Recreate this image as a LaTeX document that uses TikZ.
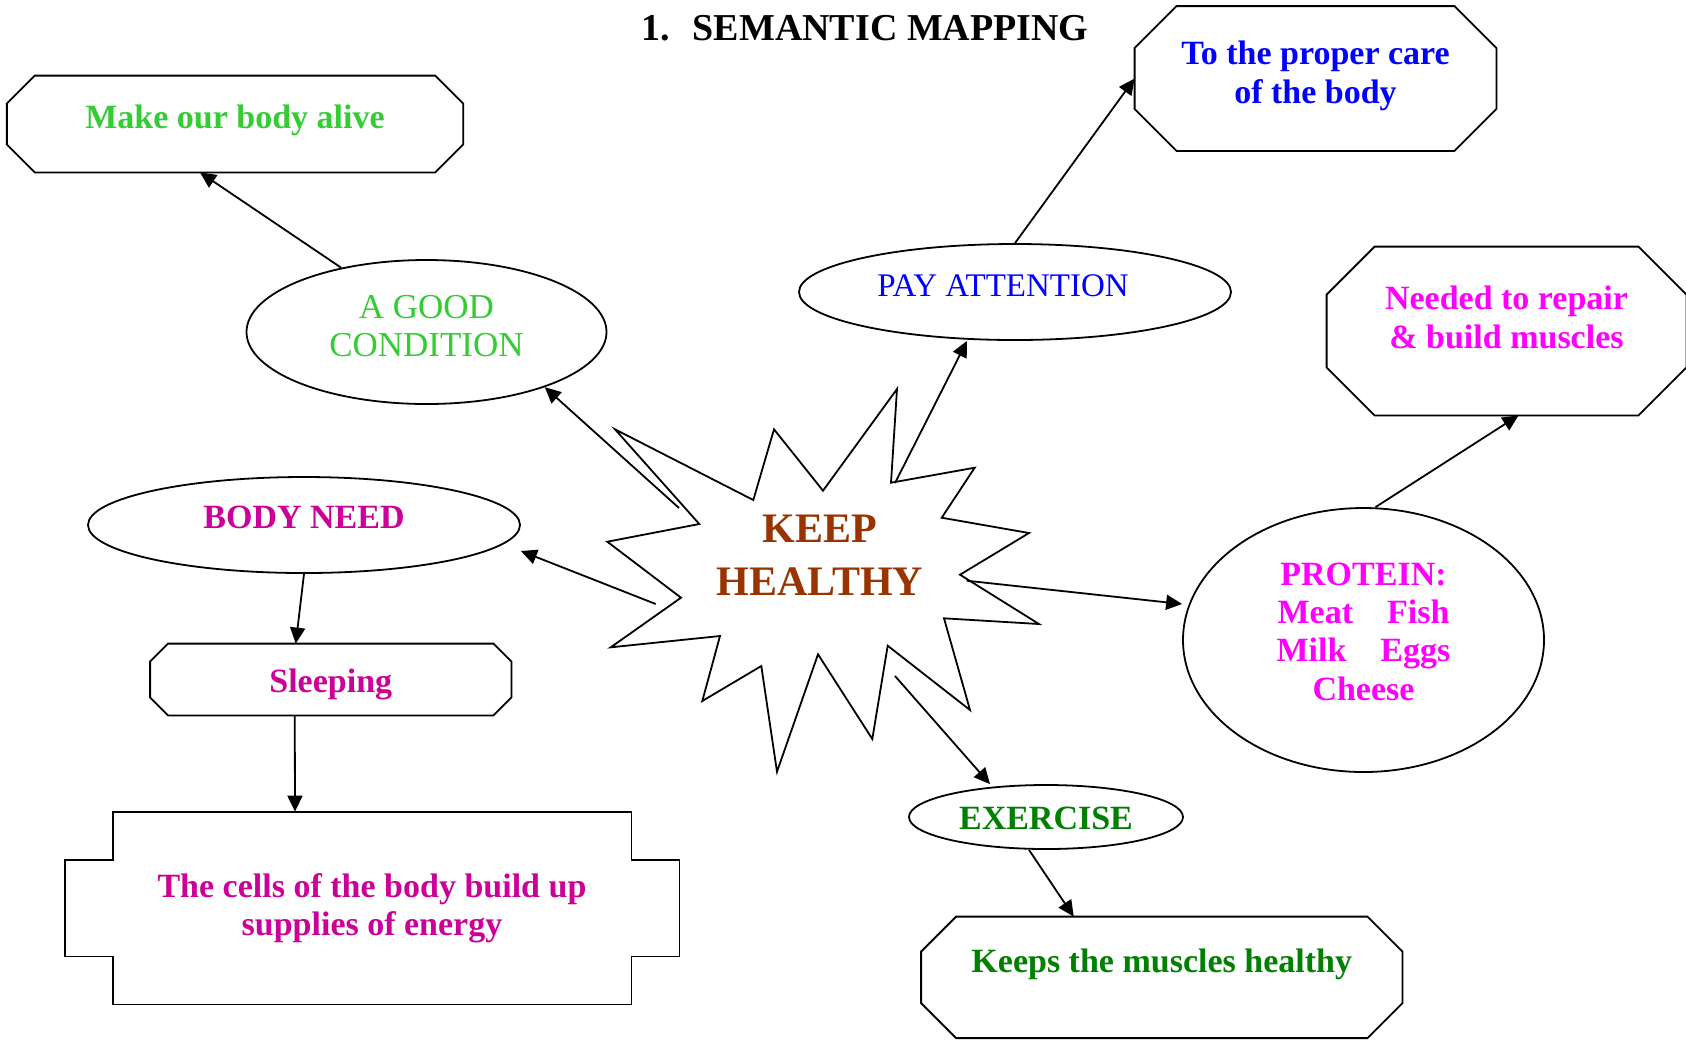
\documentclass[tikz,border=0pt]{standalone}
\usepackage{fontspec}
\setmainfont{Liberation Serif}
\usepackage{tikz}
\usetikzlibrary{shapes.geometric,arrows.meta,calc}

\definecolor{alivegreen}{RGB}{51,204,51}
\definecolor{careblue}{RGB}{0,0,255}
\definecolor{needpink}{RGB}{204,0,153}
\definecolor{protpink}{RGB}{255,0,255}
\definecolor{exgreen}{RGB}{0,128,0}
\definecolor{keepbrown}{RGB}{153,51,0}

\tikzstyle{outline} = [draw,line width=0.9pt]
\tikzstyle{bubble} = [outline,ellipse,inner sep=0pt,align=center]
\tikzstyle{box} = [rectangle,inner sep=0pt,align=center]
\tikzstyle{conn} = [-{Triangle[length=8pt,width=7.5pt]},line width=0.9pt]

\newcommand{\txt}{\fontsize{17}{19.2}\selectfont}
\newcommand{\lowpad}[1]{\rule[-#1]{0pt}{#1}}
\newcommand{\highpad}[1]{\rule{0pt}{#1}}

% octagon drawn round a box node
\newcommand{\cutcorners}[2]{%
  \draw[outline] ($(#1.north west)+(#2,0)$) -- ($(#1.north east)+(-#2,0)$)
    -- ($(#1.north east)+(0,#2)$) -- ($(#1.south east)+(0,-#2)$)
    -- ($(#1.south east)+(-#2,0)$) -- ($(#1.south west)+(#2,0)$)
    -- ($(#1.south west)+(0,-#2)$) -- ($(#1.north west)+(0,#2)$) -- cycle;}
% box with a tab on each side
\newcommand{\sidetabs}[2]{%
  \draw[outline] (#1.north west) -- (#1.north east) -- ($(#1.north east)+(0,#2)$)
    -- ($(#1.north east)+(#2,#2)$) -- ($(#1.south east)+(#2,-#2)$)
    -- ($(#1.south east)+(0,-#2)$) -- (#1.south east) -- (#1.south west)
    -- ($(#1.south west)+(0,-#2)$) -- ($(#1.south west)+(-#2,-#2)$)
    -- ($(#1.north west)+(-#2,#2)$) -- ($(#1.north west)+(0,#2)$) -- cycle;}

\begin{document}
\begin{tikzpicture}[x=0.5pt,y=-0.5pt]
    \useasboundingbox (0,0) rectangle (1686,1041);

    % the star
    \draw[outline] (615,429.3) -- (699.3,524) -- (607.3,541.7) -- (681,597.7)
      -- (610.7,647.3) -- (720,636) -- (702.3,701) -- (761.3,666) -- (777,771.7)
      -- (818,654.3) -- (872.3,739) -- (887.7,645.7) -- (970,710) -- (944,618.3)
      -- (1039,624) -- (960,574.7) -- (1029,533) -- (941.7,517.7) -- (974.7,467.7)
      -- (891,482.7) -- (897,389) -- (823,490.7) -- (774,429.3) -- (753.3,500) -- cycle;
    \node[align=center,font=\fontsize{21}{26.3}\selectfont\bfseries,text=keepbrown] (keep) at (820,555.5) {KEEP\\HEALTHY};

    \coordinate (s1) at (679,508);
    \coordinate (s2) at (655.7,604);
    \coordinate (s3) at (895,483);
    \coordinate (s4) at (966.7,580.7);
    \coordinate (s5) at (895,676);

    \node[anchor=base,font=\fontsize{19}{24}\selectfont\bfseries] (title) at (865,40) {1.\hspace{0.6em}SEMANTIC MAPPING};

    \node[box,minimum width=227.75pt,minimum height=48pt,font=\txt\bfseries,text=alivegreen] (alive) at (235,124) {Make our body alive\lowpad{7.5pt}};
    \node[box,minimum width=180.5pt,minimum height=72pt,font=\txt\bfseries,text=careblue] (care) at (1315.5,78.5) {To the proper care\\of the body\lowpad{6.5pt}};
    \node[box,minimum width=179.5pt,minimum height=84pt,font=\txt\bfseries,text=protpink] (repair) at (1506.5,331) {Needed to repair\\\& build muscles\lowpad{14pt}};
    \node[box,minimum width=180.25pt,minimum height=35.5pt,font=\txt\bfseries,text=needpink] (sleep) at (330.75,679.5) {\highpad{17pt}Sleeping};
    \node[box,minimum width=259pt,minimum height=96pt,font=\txt\bfseries,text=needpink] (cells) at (372,908) {The cells of the body build up\\supplies of energy};
    \node[box,minimum width=240.25pt,minimum height=60.35pt,font=\txt\bfseries,text=exgreen] (keeps) at (1161.75,977.35) {Keeps the muscles healthy\lowpad{16.5pt}};

    \cutcorners{alive}{28}
    \cutcorners{care}{42}
    \cutcorners{repair}{48}
    \cutcorners{sleep}{18}
    \cutcorners{keeps}{35}
    \sidetabs{cells}{48}

    \node[bubble,minimum width=180pt,minimum height=72pt,font=\fontsize{17.5}{19.2}\selectfont,text=alivegreen] (cond) at (426.5,332) {A GOOD\\CONDITION\lowpad{6pt}};
    \node[bubble,minimum width=216pt,minimum height=48pt,font=\fontsize{16.5}{19.2}\selectfont,text=careblue] (attn) at (1015,292) {PAY ATTENTION\hspace*{12pt}\lowpad{6.5pt}};
    \node[bubble,minimum width=216pt,minimum height=48pt,font=\txt\bfseries,text=needpink] (need) at (304,525) {BODY NEED\lowpad{8pt}};
    \node[bubble,minimum width=180.5pt,minimum height=132pt,font=\txt\bfseries,text=protpink] (prot) at (1363.5,640) {PROTEIN:\\Meat\quad Fish\\Milk\quad Eggs\\Cheese\lowpad{8.5pt}};
    \node[bubble,minimum width=137pt,minimum height=32pt,font=\txt\bfseries,text=exgreen] (exer) at (1046,817) {\highpad{13pt}EXERCISE};

    \draw[conn] (cond.143) -- ([xshift=-17.5pt]alive.south);
    \draw[conn] (s1) -- (cond.-25);
    \draw[conn] (s2) -- ([yshift=-13pt]need.east);
    \draw[conn] (s3) -- ([xshift=-24pt]attn.south);
    \draw[conn] (attn.north) -- (care.west);
    \draw[conn] (s4) -- ([yshift=18pt]prot.west);
    \draw[conn] ([xshift=6pt]prot.north) -- ([xshift=6pt]repair.south);
    \draw[conn] (s5) -- ([xshift=-28pt]exer.north);
    \draw[conn] ([xshift=-8.5pt]exer.south) -- ([xshift=-44pt]keeps.north);
    \draw[conn] (need.south) -- ([xshift=-17.5pt]sleep.north);
    \draw[conn] ([xshift=-18pt]sleep.south) -- ([xshift=-38.5pt]cells.north);

\end{tikzpicture}
\end{document}
